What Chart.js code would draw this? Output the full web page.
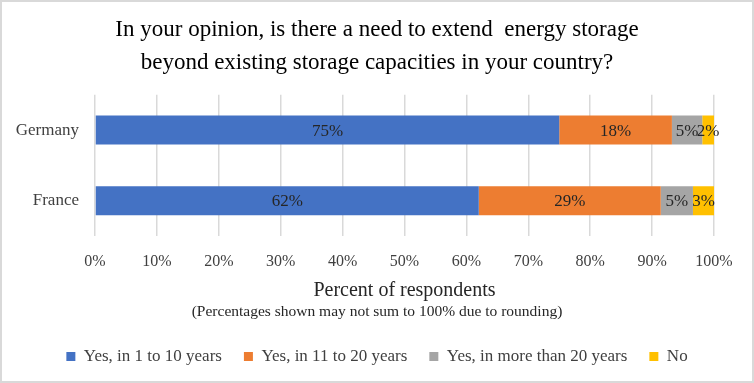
<!DOCTYPE html>
<html>
<head>
<meta charset="utf-8">
<script src="https://cdn.jsdelivr.net/npm/chart.js@4"></script>
<style>
  html, body { margin: 0; padding: 0; background: #fff; }
  .container {
    width: 754px; height: 383px; box-sizing: border-box;
    border: 2px solid #d9d9d9; background: #fff;
  }
</style>
</head>
<body>
<div class="container">
  <canvas id="chart" width="750" height="379"></canvas>
</div>
<script>
const countries = ['Germany', 'France']
const seriesNames = ['Yes, in 1 to 10 years', 'Yes, in 11 to 20 years', 'Yes, in more than 20 years', 'No']
const yes1to10 = [75, 62]
const yes11to20 = [18.2, 29.4]
const yesOver20 = [4.9, 5.2]
const no = [1.9, 3.4]
const colors = ['#4472C4', '#ED7D31', '#A5A5A5', '#FFC000']
const xTicks = [0, 10, 20, 30, 40, 50, 60, 70, 80, 90, 100]

const serif = "'Liberation Serif', 'DejaVu Serif', serif"
const values = [yes1to10, yes11to20, yesOver20, no]

// draw percent labels in the middle of each bar piece
const barLabels = {
    id: 'barLabels',
    afterDatasetsDraw(chart) {
        const ctx = chart.ctx
        ctx.save()
        ctx.font = "17px " + serif
        ctx.fillStyle = '#262626'
        ctx.textAlign = 'center'
        ctx.textBaseline = 'middle'
        chart.data.datasets.forEach((ds, i) => {
            chart.getDatasetMeta(i).data.forEach((bar, j) => {
                const p = bar.getProps(['x', 'y', 'base'], true)
                ctx.fillText(Math.round(ds.data[j]) + '%', (p.x + p.base) / 2, p.y + 1)
            })
        })
        ctx.restore()
    }
}

let context = document.getElementById('chart').getContext('2d')
let chart = new Chart(context, {
    type: 'bar',
    data: {
        labels: countries,
        datasets: seriesNames.map((name, i) => ({
            label: name,
            data: values[i],
            backgroundColor: colors[i],
            barPercentage: 0.41,
            categoryPercentage: 1
        }))
    },
    options: {
        indexAxis: 'y',
        responsive: false,
        animation: false,
        layout: { padding: { left: 10, right: 10, top: 5, bottom: 6 } },
        scales: {
            x: {
                stacked: true,
                min: 0,
                max: 100,
                afterBuildTicks: axis => { axis.ticks = xTicks.map(v => ({value: v})) },
                afterFit: axis => { axis.paddingRight = 38 },
                ticks: {
                    callback: v => v + '%',
                    color: '#404040',
                    font: { family: serif, size: 16 },
                    padding: 16
                },
                grid: { color: '#d9d9d9', lineWidth: 1.5, drawTicks: false },
                border: { display: false },
                title: {
                    display: true,
                    text: 'Percent of respondents',
                    color: '#262626',
                    font: { family: serif, size: 20 },
                    padding: { top: -9, bottom: 0 }
                }
            },
            y: {
                stacked: true,
                afterFit: axis => { axis.width = 83 },
                ticks: {
                    color: '#404040',
                    font: { family: serif, size: 17 },
                    padding: 16
                },
                grid: { display: false, drawTicks: false },
                border: { display: false }
            }
        },
        plugins: {
            title: {
                display: true,
                text: ['In your opinion, is there a need to extend  energy storage',
                       'beyond existing storage capacities in your country?'],
                color: '#000',
                font: { family: serif, size: 23, weight: 'normal', lineHeight: 1.45 },
                padding: { top: 6, bottom: 15 }
            },
            subtitle: {
                display: true,
                position: 'bottom',
                text: '(Percentages shown may not sum to 100% due to rounding)',
                color: '#262626',
                font: { family: serif, size: 15.5 },
                padding: { top: 0, bottom: 5 }
            },
            legend: {
                position: 'bottom',
                weight: 1600,
                labels: {
                    boxWidth: 9,
                    boxHeight: 9,
                    padding: 22,
                    color: '#404040',
                    font: { family: serif, size: 17 }
                }
            },
            tooltip: { enabled: false }
        }
    },
    plugins: [barLabels]
})
</script>
</body>
</html>
